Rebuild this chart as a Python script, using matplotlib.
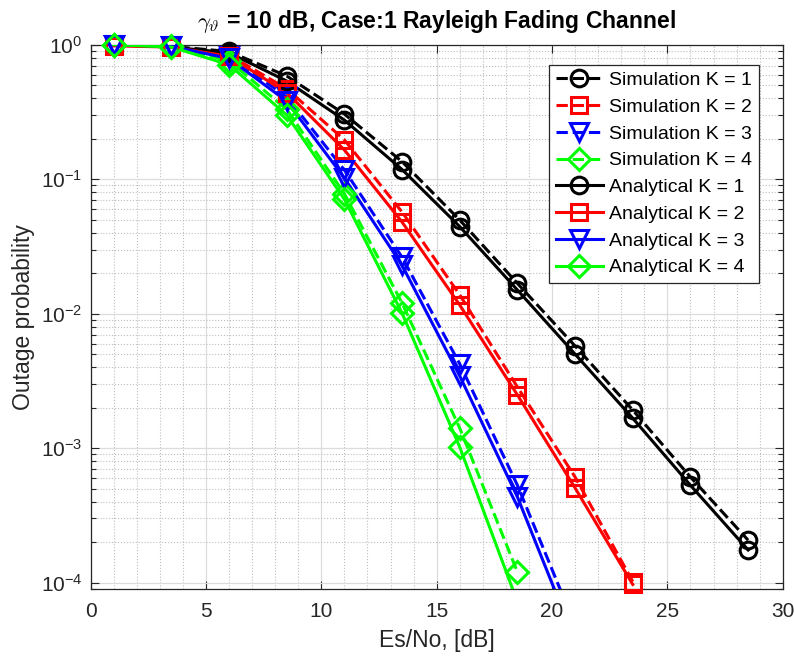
import numpy as np
import matplotlib.pyplot as plt
from matplotlib.lines import Line2D
from matplotlib.ticker import LogLocator, MultipleLocator, FuncFormatter, NullFormatter

plt.rcParams['font.family'] = ['Liberation Sans', 'DejaVu Sans']
plt.rcParams['mathtext.fontset'] = 'cm'

# Es/No points [dB]
snr = [1, 3.5, 6, 8.5, 11, 13.5, 16, 18.5, 21, 23.5, 26, 28.5]

# outage probability
sim_k1 = [1.0, 0.97, 0.89, 0.585, 0.305, 0.135, 0.0497, 0.0168, 0.00575, 0.00192, 6.1e-4, 2.07e-4]
ana_k1 = [1.0, 0.96, 0.87, 0.537, 0.275, 0.118, 0.0444, 0.015, 0.005, 0.00167, 5.3e-4, 1.75e-4]
sim_k2 = [0.99, 0.97, 0.84, 0.47, 0.196, 0.057, 0.0138, 0.00285, 6.1e-4, 1.02e-4]
ana_k2 = [0.98, 0.96, 0.82, 0.44, 0.165, 0.048, 0.0116, 0.00249, 5.06e-4, 0.97e-4]
sim_k3 = [1.0, 0.98, 0.82, 0.41, 0.117, 0.0263, 0.00423, 5.3e-4, 4.8e-5]
ana_k3 = [1.0, 0.97, 0.79, 0.38, 0.102, 0.0229, 0.00344, 4.34e-4, 3.7e-5]
sim_k4 = [1.0, 0.97, 0.76, 0.33, 0.078, 0.012, 0.00141, 1.2e-4]
ana_k4 = [1.0, 0.96, 0.71, 0.30, 0.071, 0.0101, 0.00102, 7.2e-5]

k_values = [1, 2, 3, 4]
colors = ['black', 'red', 'blue', '#00ff00']
markers = ['o', 's', 'v', 'D']
msizes = [12, 11, 13, 11]

YMIN, YMAX = 8.93e-5, 1.0

fig = plt.figure(figsize=(7.94, 6.59), dpi=100)
ax = fig.add_axes([0.1141, 0.1058, 0.8717, 0.8264])
ax.set_yscale('log')

series = [(sim_k1, ana_k1), (sim_k2, ana_k2), (sim_k3, ana_k3), (sim_k4, ana_k4)]
handles_sim, handles_ana = [], []

def draw(vals, color, ls, marker, ms):
    x = np.array(snr[:len(vals)])
    y = np.array(vals)
    ax.plot(x, y, ls=ls, color=color, lw=2.2, zorder=3)
    keep = y >= YMIN
    # markers are not clipped at the frame, like in matlab
    ax.plot(x[keep], y[keep], ls='none', marker=marker, ms=ms, mfc='none',
            mec=color, mew=2.2, clip_on=False, zorder=4)
    return Line2D([], [], ls=ls, color=color, lw=2.2, marker=marker, ms=ms,
                  mfc='none', mec=color, mew=2.2)

for (s, a), c, m, ms in zip(series, colors, markers, msizes):
    handles_sim.append(draw(s, c, '--', m, ms))
for (s, a), c, m, ms in zip(series, colors, markers, msizes):
    handles_ana.append(draw(a, c, '-', m, ms))

labels = ['Simulation K = %d' % k for k in k_values] + ['Analytical K = %d' % k for k in k_values]

ax.set_xlim(0, 30)
ax.set_ylim(YMIN, YMAX)
ax.xaxis.set_major_locator(MultipleLocator(5))
ax.xaxis.set_minor_locator(MultipleLocator(1))
ax.yaxis.set_major_locator(LogLocator(base=10, numticks=10))
ax.yaxis.set_minor_locator(LogLocator(base=10, subs=np.arange(2, 10), numticks=20))
ax.yaxis.set_minor_formatter(NullFormatter())
ax.yaxis.set_major_formatter(FuncFormatter(
    lambda v, p: r'$\mathregular{10^{%d}}$' % int(round(np.log10(v)))))

ax.tick_params(which='both', direction='in', top=True, right=True,
               labelsize=15, colors='#262626', labelcolor='#262626', width=0.8)
ax.tick_params(which='major', length=6)
ax.tick_params(axis='x', pad=9)
ax.tick_params(axis='y', pad=6)
ax.tick_params(axis='y', which='minor', length=3.5)
ax.tick_params(axis='x', which='minor', length=0)

ax.grid(which='major', color='#dcdcdc', lw=0.9)
ax.grid(which='minor', color='#bdbdbd', lw=0.8, ls=':')
ax.set_axisbelow(True)
for sp in ax.spines.values():
    sp.set_color('#262626')
    sp.set_linewidth(0.9)

ax.set_xlabel('Es/No, [dB]', fontsize=16.5, labelpad=6, color='#262626')
ax.set_ylabel('Outage probability', fontsize=16.5, labelpad=4, color='#262626')
ax.set_title(r'$\gamma_{\vartheta}$ = 10 dB, Case:1 Rayleigh Fading Channel',
             fontsize=16.5, fontweight='bold', pad=12)

leg = ax.legend(handles_sim + handles_ana, labels, loc='upper right',
                bbox_to_anchor=(0.966, 0.963), borderaxespad=0, fontsize=14,
                handlelength=2.4, handletextpad=0.35, labelspacing=0.47,
                fancybox=False, framealpha=1, edgecolor='#262626',
                borderpad=0.35)
leg.get_frame().set_linewidth(0.9)

plt.savefig('out.png', dpi=100)
